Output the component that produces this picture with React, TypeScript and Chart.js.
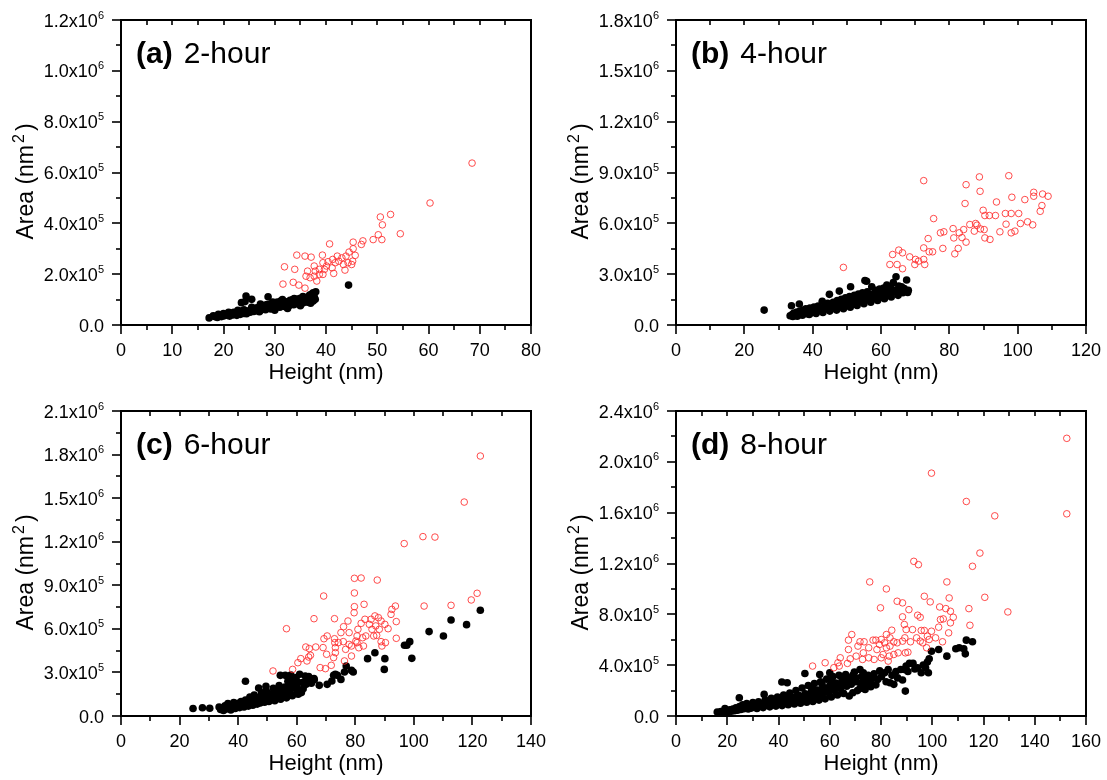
import React, { useEffect, useRef } from "react";
import { Chart, registerables } from "chart.js";
Chart.register(...registerables);

type Pt = [number, number];

// ---- axis definitions (per panel a, b, c, d) ----
const panelLetters = ["a", "b", "c", "d"];
const panelHours = ["2-hour", "4-hour", "6-hour", "8-hour"];
const xMaxes = [80, 120, 140, 160];
const xMajorSteps = [10, 20, 20, 20];
const yMaxes = [1.2e6, 1.8e6, 2.1e6, 2.4e6];
const yMajorSteps = [2e5, 3e5, 3e5, 4e5];
const xTitle = "Height (nm)";
const yTitleMain = "Area (nm";
const yTitleSup = "2";
const yTitleEnd = ")";

// ---- (a) 2-hour ----
const redA: Pt[] = [
  [68.5, 637e3], [60.3, 480e3], [52.6, 435e3], [50.6, 425e3], [51.0, 394e3], [54.5, 359e3],
  [50.2, 355e3], [50.9, 336e3], [49.2, 336e3], [47.2, 331e3], [46.9, 317e3], [45.3, 326e3],
  [45.3, 300e3], [40.7, 319e3], [45.7, 274e3], [44.5, 287e3], [43.9, 271e3], [43.1, 264e3],
  [42.2, 271e3], [41.3, 258e3], [40.4, 249e3], [39.3, 275e3], [37.1, 267e3], [35.9, 271e3],
  [34.3, 275e3], [33.9, 219e3], [31.9, 229e3], [31.6, 161e3], [33.6, 168e3], [34.7, 157e3],
  [35.9, 145e3], [36.1, 192e3], [36.4, 212e3], [37.7, 232e3], [37.7, 192e3], [38.2, 173e3],
  [39.4, 199e3], [39.7, 219e3], [39.4, 245e3], [41.2, 225e3], [41.5, 203e3], [43.7, 216e3],
  [44.3, 245e3], [45.2, 251e3], [45.0, 238e3], [40.1, 232e3], [38.7, 199e3], [36.9, 186e3],
  [42.5, 251e3], [43.4, 238e3], [41.8, 245e3], [38.7, 219e3], [37.9, 212e3],
];
const blackA: Pt[] = [
  [17.2, 28e3], [18.3, 33e3], [18.8, 30e3], [19.2, 38e3], [19.6, 33e3], [20.1, 36e3], [20.4, 42e3],
  [20.8, 38e3], [21.2, 35e3], [21.5, 46e3], [21.9, 40e3], [22.3, 44e3], [22.6, 38e3], [23.0, 48e3],
  [23.3, 42e3], [23.5, 88e3], [23.7, 52e3], [24.0, 45e3], [24.2, 92e3], [24.4, 114e3], [24.6, 49e3],
  [24.9, 56e3], [25.2, 50e3], [25.5, 101e3], [25.6, 60e3], [25.9, 53e3], [26.2, 57e3], [26.5, 62e3],
  [26.8, 55e3], [27.0, 66e3], [27.3, 59e3], [27.6, 63e3], [27.9, 70e3], [28.2, 60e3], [28.5, 66e3],
  [28.7, 111e3], [28.8, 74e3], [29.2, 63e3], [29.5, 70e3], [29.8, 78e3], [30.1, 67e3], [30.4, 74e3],
  [30.7, 82e3], [31.0, 70e3], [31.3, 78e3], [31.5, 100e3], [31.6, 85e3], [31.9, 73e3], [32.2, 81e3],
  [32.5, 88e3], [32.8, 76e3], [33.1, 84e3], [33.4, 92e3], [33.7, 80e3], [34.0, 88e3], [34.3, 95e3],
  [34.6, 83e3], [34.9, 91e3], [35.2, 99e3], [35.5, 87e3], [35.8, 94e3], [36.1, 102e3], [36.4, 90e3],
  [36.7, 98e3], [37.0, 106e3], [37.2, 122e3], [37.5, 94e3], [37.5, 127e3], [37.7, 112e3],
  [38.0, 131e3], [37.9, 101e3], [44.4, 157e3], [22.0, 50e3], [23.5, 55e3], [26.0, 65e3],
  [28.0, 78e3], [30.0, 85e3], [32.0, 92e3], [26.5, 68e3], [27.5, 72e3], [29.0, 82e3], [31.0, 88e3],
  [33.0, 97e3], [35.0, 105e3], [36.5, 110e3], [20.0, 45e3], [18.0, 36e3], [30.5, 90e3],
  [33.5, 100e3], [24.0, 60e3], [34.5, 102e3], [36.0, 108e3], [28.5, 80e3],
  [29.6, 90e3], [31.2, 95e3], [27.2, 82e3], [33.8, 104e3], [35.5, 112e3], [36.8, 118e3],
  [25.5, 70e3], [22.8, 58e3], [21.0, 50e3], [19.0, 42e3], [30.0, 58e3], [32.5, 65e3],
  [35.0, 76e3], [37.0, 86e3], [27.0, 52e3], [24.5, 44e3],
];

// ---- (b) 4-hour ----
const redB: Pt[] = [
  [49.0, 340e3], [62.6, 357e3], [63.4, 416e3], [65.2, 442e3], [66.3, 426e3], [64.7, 357e3],
  [66.3, 332e3], [68.4, 402e3], [70.1, 387e3], [69.9, 357e3], [71.0, 377e3], [72.5, 387e3],
  [72.8, 357e3], [72.5, 455e3], [73.8, 510e3], [74.1, 432e3], [75.1, 432e3], [75.4, 628e3],
  [72.5, 852e3], [77.4, 544e3], [78.4, 550e3], [78.1, 452e3], [81.1, 569e3], [81.3, 514e3],
  [81.6, 420e3], [82.6, 452e3], [82.9, 544e3], [83.7, 516e3], [84.2, 563e3], [84.6, 717e3],
  [84.9, 828e3], [84.9, 489e3], [86.0, 593e3], [87.3, 554e3], [87.7, 599e3], [88.1, 589e3],
  [88.8, 874e3], [89.0, 789e3], [89.1, 567e3], [89.9, 677e3], [90.2, 563e3], [90.4, 646e3],
  [90.4, 514e3], [91.7, 646e3], [91.9, 505e3], [93.5, 646e3], [93.8, 726e3], [94.8, 550e3],
  [96.4, 658e3], [96.6, 595e3], [97.4, 881e3], [98.1, 658e3], [98.3, 754e3], [98.1, 544e3],
  [99.2, 554e3], [100.3, 658e3], [100.8, 599e3], [102.1, 740e3], [102.9, 609e3], [104.4, 591e3],
  [104.7, 760e3], [104.7, 783e3], [106.6, 671e3], [107.1, 705e3], [107.3, 773e3], [108.9, 760e3],
];
const blackB: Pt[] = [
  [25.8, 88e3], [33.4, 55e3], [33.8, 114e3], [34.0, 62e3], [34.5, 70e3], [35.0, 58e3], [35.4, 76e3],
  [35.9, 64e3], [36.1, 124e3], [36.3, 82e3], [36.8, 68e3], [37.2, 88e3], [37.6, 74e3], [38.0, 95e3],
  [38.4, 66e3], [38.8, 80e3], [39.2, 100e3], [39.6, 72e3], [40.0, 86e3], [40.4, 106e3], [40.8, 78e3],
  [41.2, 92e3], [41.6, 112e3], [42.0, 84e3], [42.4, 98e3], [42.8, 140e3], [43.2, 90e3], [43.6, 118e3],
  [44.0, 104e3], [44.4, 128e3], [44.9, 181e3], [45.2, 96e3], [45.6, 112e3], [46.0, 134e3],
  [46.4, 100e3], [46.8, 120e3], [47.2, 145e3], [47.8, 200e3], [47.6, 108e3], [48.0, 128e3],
  [48.4, 152e3], [48.8, 114e3], [49.2, 135e3], [49.6, 160e3], [50.0, 120e3], [50.4, 142e3],
  [50.8, 168e3], [51.1, 226e3], [51.4, 126e3], [51.8, 150e3], [52.2, 175e3], [52.6, 132e3],
  [53.0, 158e3], [53.4, 182e3], [53.8, 138e3], [54.2, 165e3], [54.6, 190e3], [55.0, 145e3],
  [55.3, 262e3], [55.8, 258e3], [55.6, 172e3], [56.0, 196e3], [56.4, 150e3], [56.8, 178e3],
  [57.3, 226e3], [57.6, 158e3], [58.0, 186e3], [58.4, 205e3], [58.8, 165e3], [59.2, 192e3],
  [59.6, 212e3], [60.0, 170e3], [60.4, 198e3], [60.8, 218e3], [61.2, 176e3], [61.7, 236e3],
  [62.0, 200e3], [62.4, 182e3], [62.8, 222e3], [63.2, 190e3], [63.6, 250e3], [64.0, 205e3],
  [64.4, 285e3], [64.8, 196e3], [65.2, 230e3], [65.6, 210e3], [66.0, 226e3], [66.4, 190e3],
  [66.8, 215e3], [67.2, 200e3], [67.5, 266e3], [67.8, 192e3], [68.0, 205e3],
  [34.2, 50e3], [35.5, 52e3], [37.0, 58e3], [39.0, 62e3], [41.0, 68e3], [43.0, 74e3], [45.0, 82e3],
  [47.0, 88e3], [49.0, 96e3], [51.0, 105e3], [53.0, 115e3], [55.0, 125e3], [57.0, 135e3],
  [59.0, 145e3], [61.0, 155e3], [63.0, 165e3], [65.0, 175e3],
];

// ---- (c) 6-hour ----
const redC: Pt[] = [
  [122.7, 1790e3], [117.2, 1473e3], [103.1, 1235e3], [107.2, 1232e3], [96.7, 1187e3],
  [121.6, 845e3], [119.6, 799e3], [112.7, 762e3], [103.5, 757e3], [93.7, 757e3], [94.0, 650e3],
  [94.0, 535e3], [87.5, 936e3], [79.7, 948e3], [82.0, 950e3], [79.7, 847e3], [83.0, 769e3],
  [79.7, 753e3], [69.2, 826e3], [65.9, 670e3], [72.9, 670e3], [56.5, 601e3], [51.9, 310e3],
  [58.6, 321e3], [60.4, 367e3], [61.4, 395e3], [63.5, 379e3], [63.1, 475e3], [64.3, 464e3],
  [64.1, 406e3], [66.5, 475e3], [68.0, 333e3], [69.0, 471e3], [69.3, 532e3], [70.4, 551e3],
  [70.2, 425e3], [69.8, 326e3], [71.8, 349e3], [72.6, 402e3], [72.9, 532e3], [73.0, 505e3],
  [73.2, 471e3], [73.2, 436e3], [75.1, 574e3], [76.0, 615e3], [75.9, 512e3], [76.7, 459e3],
  [76.3, 379e3], [77.5, 654e3], [77.9, 574e3], [77.9, 493e3], [78.7, 482e3], [78.7, 413e3],
  [79.6, 711e3], [80.2, 516e3], [80.6, 551e3], [80.9, 597e3], [81.2, 470e3], [82.0, 638e3],
  [82.5, 539e3], [82.8, 482e3], [83.3, 666e3], [83.6, 551e3], [84.8, 631e3], [85.4, 666e3],
  [85.7, 597e3], [86.3, 551e3], [86.7, 689e3], [87.0, 620e3], [87.3, 555e3], [87.9, 677e3],
  [88.2, 597e3], [88.8, 654e3], [88.8, 512e3], [89.1, 482e3], [90.1, 631e3], [90.3, 505e3],
  [91.2, 601e3], [92.2, 700e3], [92.5, 734e3], [80.6, 505e3], [74.2, 505e3], [64.7, 418e3],
];
const blackC: Pt[] = [
  [24.6, 52e3], [27.8, 57e3], [30.3, 53e3], [33.5, 62e3], [34.0, 45e3], [34.6, 55e3], [35.0, 38e3],
  [35.5, 70e3], [36.0, 48e3], [36.5, 85e3], [37.0, 58e3], [37.5, 42e3], [38.0, 75e3], [38.5, 92e3],
  [39.0, 52e3], [39.5, 65e3], [40.0, 88e3], [40.5, 58e3], [41.0, 100e3], [41.5, 72e3], [42.0, 62e3],
  [42.5, 239e3], [42.5, 110e3], [43.0, 84e3], [43.5, 68e3], [44.0, 130e3], [44.5, 95e3], [45.0, 74e3],
  [45.5, 145e3], [46.0, 108e3], [46.5, 82e3], [47.0, 192e3], [47.0, 125e3], [47.5, 90e3],
  [48.0, 160e3], [48.5, 112e3], [49.0, 95e3], [49.5, 175e3], [49.5, 205e3], [50.0, 135e3],
  [50.5, 100e3], [51.0, 150e3], [51.5, 118e3], [52.0, 190e3], [52.5, 105e3], [53.0, 165e3],
  [53.5, 130e3], [54.0, 210e3], [54.4, 280e3], [54.5, 115e3], [55.0, 180e3], [55.5, 145e3],
  [56.1, 280e3], [56.0, 200e3], [56.5, 125e3], [57.0, 240e3], [57.5, 160e3], [58.0, 282e3],
  [58.0, 215e3], [58.5, 140e3], [58.8, 252e3], [59.2, 207e3], [59.8, 264e3], [60.0, 175e3],
  [60.5, 150e3], [61.0, 287e3], [61.6, 161e3], [62.2, 188e3], [62.9, 275e3], [63.2, 218e3],
  [64.1, 271e3], [65.9, 257e3], [67.7, 211e3], [70.4, 218e3], [72.0, 241e3], [72.6, 280e3],
  [73.2, 287e3], [73.9, 280e3], [75.1, 252e3], [76.3, 303e3], [76.9, 344e3], [78.7, 314e3],
  [79.3, 303e3], [84.2, 395e3], [86.7, 436e3], [89.9, 321e3], [90.1, 395e3], [96.8, 487e3],
  [97.6, 487e3], [98.6, 512e3], [99.3, 397e3], [105.2, 581e3], [110.1, 551e3], [112.7, 661e3],
  [118.0, 629e3], [122.7, 728e3],
  [38.0, 60e3], [40.0, 70e3], [42.0, 80e3], [44.0, 85e3], [46.0, 95e3], [48.0, 100e3], [50.0, 115e3],
  [52.0, 125e3], [54.0, 140e3], [56.0, 150e3], [44.0, 110e3], [46.0, 125e3], [48.0, 135e3],
  [50.0, 160e3], [52.0, 150e3], [54.0, 170e3], [56.0, 175e3], [58.0, 190e3], [60.0, 200e3],
  [62.0, 230e3], [64.0, 240e3], [66.0, 250e3], [60.5, 230e3], [63.5, 245e3], [65.0, 225e3],
];

// ---- (d) 8-hour ----
const redD: Pt[] = [
  [152.5, 2185e3], [152.5, 1591e3], [99.7, 1911e3], [113.3, 1688e3], [124.4, 1575e3],
  [118.6, 1282e3], [92.8, 1217e3], [94.6, 1191e3], [115.7, 1178e3], [75.6, 1055e3], [82.1, 1000e3],
  [105.7, 1055e3], [120.5, 934e3], [106.6, 929e3], [96.9, 942e3], [99.2, 898e3], [86.3, 903e3],
  [88.4, 890e3], [79.8, 851e3], [90.9, 837e3], [102.9, 858e3], [114.3, 845e3], [129.5, 819e3],
  [105.3, 845e3], [107.1, 824e3], [94.3, 793e3], [95.3, 777e3], [88.4, 780e3], [103.2, 759e3],
  [104.3, 764e3], [108.2, 777e3], [107.1, 733e3], [114.7, 714e3], [89.1, 720e3], [89.8, 680e3],
  [92.3, 680e3], [95.7, 673e3], [96.9, 673e3], [99.7, 667e3], [102.5, 699e3], [106.4, 654e3],
  [68.6, 641e3], [67.3, 597e3], [71.8, 584e3], [73.4, 584e3], [71.0, 550e3], [75.2, 537e3],
  [76.9, 597e3], [78.0, 597e3], [80.1, 602e3], [82.1, 641e3], [84.2, 675e3], [83.5, 615e3],
  [81.4, 576e3], [85.0, 584e3], [86.3, 576e3], [83.5, 550e3], [82.1, 537e3], [86.7, 497e3],
  [88.4, 589e3], [89.3, 615e3], [89.5, 497e3], [90.5, 502e3], [91.5, 584e3], [93.9, 615e3],
  [95.3, 589e3], [96.3, 576e3], [98.1, 628e3], [98.8, 602e3], [101.3, 615e3], [97.8, 537e3],
  [104.0, 584e3], [80.8, 484e3], [80.1, 458e3], [78.4, 523e3], [77.3, 445e3], [75.2, 458e3],
  [72.8, 445e3], [70.3, 471e3], [68.0, 450e3], [67.3, 523e3], [64.1, 458e3], [63.7, 393e3],
  [63.2, 419e3], [66.9, 414e3], [61.6, 380e3], [58.2, 419e3], [53.3, 393e3], [82.8, 432e3],
  [83.2, 471e3], [85.0, 484e3], [79.4, 563e3], [73.1, 497e3],
];
const blackD: Pt[] = [
  [16.1, 31e3], [17.0, 22e3], [17.5, 35e3], [18.2, 28e3], [19.1, 58e3], [19.5, 40e3], [20.2, 32e3],
  [21.0, 48e3], [21.6, 38e3], [22.2, 55e3], [22.8, 42e3], [23.4, 65e3], [24.0, 46e3], [24.7, 144e3],
  [24.8, 75e3], [25.3, 52e3], [26.0, 88e3], [26.5, 58e3], [27.0, 70e3], [27.6, 98e3], [28.2, 55e3],
  [28.8, 80e3], [29.4, 62e3], [30.0, 105e3], [30.5, 72e3], [31.0, 90e3], [31.6, 60e3], [32.2, 112e3],
  [32.8, 78e3], [33.4, 95e3], [34.0, 66e3], [34.4, 170e3], [34.8, 125e3], [35.4, 85e3], [36.0, 105e3],
  [36.6, 72e3], [37.2, 140e3], [37.8, 92e3], [38.4, 115e3], [39.0, 78e3], [39.6, 150e3],
  [40.2, 100e3], [40.8, 125e3], [41.3, 267e3], [41.4, 82e3], [42.0, 165e3], [42.6, 108e3],
  [43.2, 135e3], [43.4, 262e3], [43.8, 88e3], [44.4, 180e3], [45.0, 118e3], [45.6, 145e3],
  [46.2, 95e3], [46.8, 200e3], [47.4, 125e3], [48.0, 160e3], [48.6, 100e3], [49.2, 220e3],
  [49.8, 135e3], [50.3, 335e3], [50.4, 175e3], [51.0, 108e3], [51.6, 240e3], [52.2, 145e3],
  [52.8, 190e3], [53.4, 115e3], [54.0, 255e3], [54.6, 155e3], [55.2, 205e3], [55.8, 125e3],
  [56.1, 327e3], [56.4, 270e3], [57.0, 170e3], [57.6, 220e3], [58.2, 135e3], [58.8, 290e3],
  [59.4, 185e3], [60.0, 340e3], [60.0, 240e3], [60.6, 150e3], [61.2, 310e3], [61.8, 200e3],
  [62.4, 260e3], [63.0, 165e3], [63.6, 320e3], [64.2, 215e3], [64.8, 280e3], [65.4, 178e3],
  [66.2, 327e3], [66.6, 235e3], [67.2, 300e3], [67.6, 157e3], [68.4, 250e3], [69.0, 183e3],
  [69.6, 345e3], [70.2, 270e3], [70.8, 200e3], [71.8, 366e3], [71.8, 217e3], [72.4, 310e3],
  [73.1, 340e3], [73.8, 209e3], [74.4, 280e3], [75.0, 320e3], [75.9, 262e3], [76.5, 300e3],
  [77.3, 332e3], [78.0, 245e3], [78.7, 288e3], [79.5, 355e3], [80.2, 310e3], [81.4, 340e3],
  [82.0, 270e3], [82.8, 365e3], [83.5, 262e3], [84.3, 320e3], [85.0, 249e3], [85.8, 350e3],
  [86.5, 300e3], [87.7, 366e3], [88.4, 283e3], [89.1, 366e3], [89.5, 196e3], [89.8, 393e3],
  [90.5, 350e3], [91.1, 414e3], [92.5, 414e3], [93.2, 370e3], [94.3, 380e3], [95.7, 340e3],
  [96.5, 400e3], [97.4, 380e3], [98.1, 424e3], [98.5, 340e3], [98.8, 450e3], [99.7, 510e3],
  [102.5, 523e3], [105.7, 471e3], [109.2, 529e3], [110.5, 537e3], [112.3, 529e3], [112.9, 489e3],
  [113.3, 597e3], [115.7, 584e3],
  [30.0, 80e3], [33.0, 88e3], [36.0, 95e3], [39.0, 110e3], [42.0, 125e3], [45.0, 140e3],
  [48.0, 130e3], [50.0, 150e3], [52.0, 165e3], [54.0, 180e3], [56.0, 195e3], [58.0, 210e3],
  [60.0, 200e3], [62.0, 230e3], [64.0, 250e3], [66.0, 260e3], [68.0, 280e3], [70.0, 300e3],
  [72.0, 260e3], [74.0, 240e3], [76.0, 230e3], [44.0, 110e3], [47.0, 150e3], [53.0, 220e3],
  [57.0, 250e3], [61.0, 270e3], [65.0, 300e3], [69.0, 320e3],
];

const redSets = [redA, redB, redC, redD];
const blackSets = [blackA, blackB, blackC, blackD];

const FONT = '"Liberation Sans", Arial, Helvetica, sans-serif';
const CW = 552;
const CH = 390;
const PAD = { left: 121, right: 21, top: 20, bottom: 65 };
const POS = [
  [0, 0],
  [555, 0],
  [0, 391],
  [555, 391],
];

function makeAxesPlugin(i: number) {
  const xMax = xMaxes[i];
  const xStep = xMajorSteps[i];
  const yMax = yMaxes[i];
  const yStep = yMajorSteps[i];
  return {
    id: "originAxes" + i,
    afterDraw(chart: any) {
      const ctx: CanvasRenderingContext2D = chart.ctx;
      const { left, right, top, bottom } = chart.chartArea;
      const xs = chart.scales.x;
      const ys = chart.scales.y;
      ctx.save();
      ctx.strokeStyle = "#000";
      ctx.fillStyle = "#000";
      ctx.lineCap = "butt";

      // x ticks (bottom outward, top inward)
      const nx = Math.round((xMax / xStep) * 2);
      ctx.lineWidth = 1.6;
      for (let k = 0; k <= nx; k++) {
        const v = (k * xStep) / 2;
        const px = Math.round(xs.getPixelForValue(v));
        const major = k % 2 === 0;
        ctx.beginPath();
        ctx.moveTo(px, bottom);
        ctx.lineTo(px, bottom + (major ? 9 : 5));
        ctx.moveTo(px, top);
        ctx.lineTo(px, top + 5);
        ctx.stroke();
      }
      // y ticks (left outward)
      const ny = Math.round((yMax / yStep) * 2);
      for (let k = 0; k <= ny; k++) {
        const v = (k * yStep) / 2;
        const py = Math.round(ys.getPixelForValue(v));
        const major = k % 2 === 0;
        ctx.beginPath();
        ctx.moveTo(left, py);
        ctx.lineTo(left - (major ? 9 : 5), py);
        ctx.stroke();
      }
      // frame
      ctx.lineWidth = 2;
      ctx.strokeRect(left, top, right - left, bottom - top);

      // x tick labels
      ctx.font = `18px ${FONT}`;
      ctx.textAlign = "center";
      ctx.textBaseline = "alphabetic";
      for (let k = 0; k <= nx; k += 2) {
        const v = (k * xStep) / 2;
        const px = xs.getPixelForValue(v);
        ctx.fillText(String(v), px, bottom + 31);
      }
      // y tick labels with superscript exponent
      const labelRight = left - 17;
      for (let k = 0; k <= ny; k += 2) {
        const v = (k * yStep) / 2;
        const py = ys.getPixelForValue(v);
        if (v === 0) {
          ctx.font = `18px ${FONT}`;
          ctx.textAlign = "right";
          ctx.fillText("0.0", labelRight, py + 6.5);
          continue;
        }
        const exp = Math.floor(Math.log10(v) + 1e-9);
        const mant = (v / Math.pow(10, exp)).toFixed(1);
        const sup = String(exp);
        ctx.font = `11px ${FONT}`;
        const supW = ctx.measureText(sup).width;
        ctx.textAlign = "left";
        ctx.fillText(sup, labelRight - supW, py - 1.5);
        ctx.font = `18px ${FONT}`;
        ctx.textAlign = "right";
        ctx.fillText(mant + "x10", labelRight - supW, py + 6.5);
      }

      // x title
      ctx.font = `22px ${FONT}`;
      ctx.textAlign = "center";
      ctx.fillText(xTitle, (left + right) / 2, bottom + 54);

      // y title (rotated) with superscript
      ctx.save();
      ctx.translate(left - 88, (top + bottom) / 2 + 9);
      ctx.rotate(-Math.PI / 2);
      ctx.textAlign = "left";
      ctx.font = `23px ${FONT}`;
      const w1 = ctx.measureText(yTitleMain).width;
      const w3 = ctx.measureText(yTitleEnd).width;
      ctx.font = `16px ${FONT}`;
      const w2 = ctx.measureText(yTitleSup).width;
      const gapA = 2;
      const gapB = 3;
      const start = -(w1 + w2 + w3 + gapA + gapB) / 2;
      ctx.font = `23px ${FONT}`;
      ctx.fillText(yTitleMain, start, 0);
      ctx.font = `16px ${FONT}`;
      ctx.fillText(yTitleSup, start + w1 + gapA, -9);
      ctx.font = `23px ${FONT}`;
      ctx.fillText(yTitleEnd, start + w1 + gapA + w2 + gapB, 0);
      ctx.restore();

      // panel title
      ctx.textAlign = "left";
      ctx.font = `bold 30px ${FONT}`;
      const tag = `(${panelLetters[i]})`;
      const tw = ctx.measureText(tag).width;
      ctx.fillText(tag, left + 15, top + 43);
      ctx.font = `30px ${FONT}`;
      ctx.fillText(panelHours[i], left + 15 + tw + 11, top + 43);

      ctx.restore();
    },
  };
}

function Panel({ i }: { i: number }) {
  const ref = useRef<HTMLCanvasElement | null>(null);
  useEffect(() => {
    if (!ref.current) return;
    const chart = new Chart(ref.current, {
      type: "scatter",
      data: {
        datasets: [
          {
            label: "red",
            data: redSets[i].map(([x, y]) => ({ x, y })),
            pointRadius: 3.3,
            pointBorderWidth: 1,
            pointBorderColor: "rgba(255,45,45,0.85)",
            pointBackgroundColor: "rgba(255,255,255,0)",
            borderColor: "rgba(255,45,45,0.85)",
            backgroundColor: "rgba(255,255,255,0)",
          },
          {
            label: "black",
            data: blackSets[i].map(([x, y]) => ({ x, y })),
            pointRadius: 3.8,
            pointBorderWidth: 0,
            pointBackgroundColor: "#000",
            borderColor: "#000",
            backgroundColor: "#000",
          },
        ],
      },
      options: {
        responsive: false,
        maintainAspectRatio: false,
        animation: false,
        devicePixelRatio: 1,
        layout: { padding: PAD },
        plugins: { legend: { display: false }, tooltip: { enabled: false } },
        events: [],
        scales: {
          x: { type: "linear", min: 0, max: xMaxes[i], display: false },
          y: { type: "linear", min: 0, max: yMaxes[i], display: false },
        },
      },
      plugins: [makeAxesPlugin(i)],
    } as any);
    return () => chart.destroy();
  }, [i]);
  return (
    <canvas
      ref={ref}
      width={CW}
      height={CH}
      style={{ position: "absolute", left: POS[i][0], top: POS[i][1], width: CW, height: CH }}
    />
  );
}

export default function App() {
  return (
    <div style={{ position: "absolute", left: 0, top: 0, width: 1107, height: 780, background: "#fff" }}>
      {[0, 1, 2, 3].map((i) => (
        <Panel key={i} i={i} />
      ))}
    </div>
  );
}
